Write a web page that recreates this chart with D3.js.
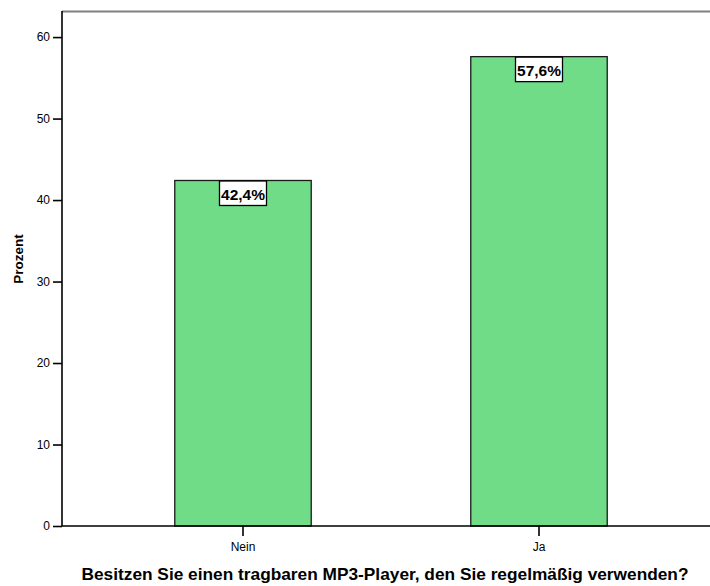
<!DOCTYPE html>
<html><head><meta charset="utf-8">
<script src="https://cdn.jsdelivr.net/npm/d3@7"></script>
<style>body{margin:0;background:#fff}svg{display:block;font-family:Arial,"Liberation Sans",sans-serif}</style>
</head><body><svg id="c" width="710" height="586"></svg>
<script>
const categories = ["Nein", "Ja"];
const values = [42.4, 57.6];
const valueLabels = ["42,4%", "57,6%"];
const yTicks = [0, 10, 20, 30, 40, 50, 60];
const xTitle = "Besitzen Sie einen tragbaren MP3-Player, den Sie regelmäßig verwenden?";
const yTitle = "Prozent";

(function () {
const svg = d3.select("#c");
const pL = 62, pR = 710, pT = 11, pB = 526;
const FF = "Arial, 'Liberation Sans', sans-serif";

const x = d3.scaleBand().domain(categories).range([95, 687]).paddingInner(0.539).paddingOuter(0.2695);
const y = d3.scaleLinear().domain([0, 63.2]).range([pB, pT]);

// top frame line
svg.append("line").attr("x1", pL).attr("x2", pR).attr("y1", pT + 0.5).attr("y2", pT + 0.5)
  .attr("stroke", "#808080").attr("stroke-width", 2);

// bars
svg.selectAll("rect.bar").data(values).join("rect").attr("class", "bar")
  .attr("x", (d, i) => x(categories[i]))
  .attr("y", d => y(d))
  .attr("width", x.bandwidth())
  .attr("height", d => pB - y(d))
  .attr("fill", "#70dc88").attr("stroke", "#1a1a1a").attr("stroke-width", 1.3);

// y axis
const ya = svg.append("g").attr("transform", `translate(${pL},0)`)
  .call(d3.axisLeft(y).tickValues(yTicks).tickSize(9).tickPadding(3).tickFormat(d3.format("d")));
ya.select(".domain").attr("d", `M0,${pT}V${pB}`).attr("stroke", "#000").attr("stroke-width", 1.6);
ya.selectAll(".tick line").attr("stroke", "#000").attr("stroke-width", 1.6);
ya.selectAll(".tick text").attr("font-size", 12).attr("fill", "#000").attr("font-family", FF);

// x axis
const xa = svg.append("g").attr("transform", `translate(0,${pB})`)
  .call(d3.axisBottom(x).tickSize(10).tickPadding(6));
xa.select(".domain").attr("d", `M${pL},0H${pR}`).attr("stroke", "#000").attr("stroke-width", 1.6);
xa.selectAll(".tick line").attr("stroke", "#000").attr("stroke-width", 1.6);
xa.selectAll(".tick text").attr("font-size", 12).attr("fill", "#000").attr("font-family", FF);

// value labels
const lg = svg.selectAll("g.lab").data(values).join("g").attr("class", "lab")
  .attr("transform", (d, i) => `translate(${x(categories[i]) + x.bandwidth() / 2},${y(d)})`);
lg.append("rect").attr("x", -23.5).attr("y", 0.5).attr("width", 47).attr("height", 24.5)
  .attr("fill", "#fff").attr("stroke", "#000").attr("stroke-width", 1.3);
lg.append("text").attr("text-anchor", "middle").attr("y", 19.5).attr("font-size", 15.5)
  .attr("font-weight", "bold").attr("fill", "#000").text((d, i) => valueLabels[i]);

// axis titles
svg.append("text").attr("x", 385).attr("y", 580).attr("text-anchor", "middle")
  .attr("font-size", 17.3).attr("font-weight", "bold").attr("fill", "#000").text(xTitle);
svg.append("text").attr("transform", "translate(23,259) rotate(-90)").attr("text-anchor", "middle")
  .attr("font-size", 13.5).attr("font-weight", "bold").attr("fill", "#000").text(yTitle);
})();
</script></body></html>
